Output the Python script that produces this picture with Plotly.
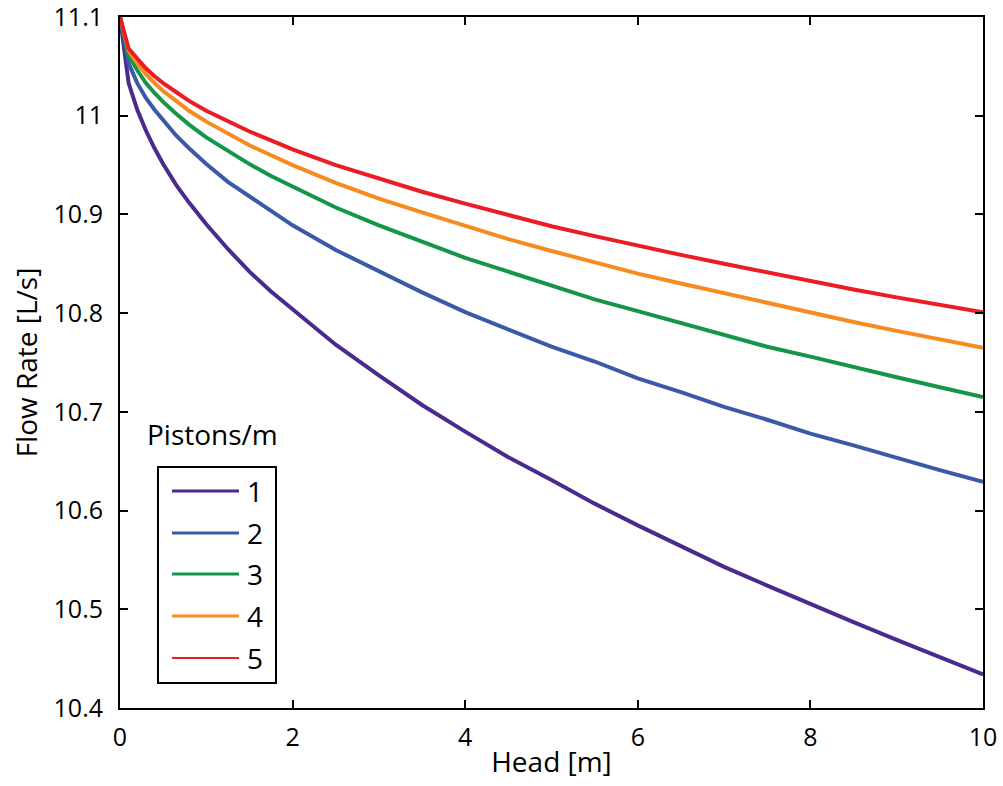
import plotly.graph_objects as go

# Head [m] sample points
head = [0, 0.1, 0.2, 0.3, 0.4, 0.5, 0.65, 0.8, 1, 1.25, 1.5, 1.75, 2, 2.5, 3,
        3.5, 4, 4.5, 5, 5.5, 6, 6.5, 7, 7.5, 8, 8.5, 9, 9.5, 10]

# Flow rate [L/s] for each piston density
flow_1 = [11.100, 11.033, 11.006, 10.985, 10.967, 10.951, 10.930, 10.912, 10.890,
          10.865, 10.842, 10.822, 10.804, 10.768, 10.737, 10.707, 10.680, 10.654,
          10.631, 10.607, 10.585, 10.564, 10.543, 10.524, 10.505, 10.487, 10.469,
          10.452, 10.434]
flow_2 = [11.100, 11.053, 11.033, 11.018, 11.006, 10.995, 10.980, 10.967, 10.951,
          10.933, 10.918, 10.903, 10.889, 10.864, 10.842, 10.821, 10.801, 10.784,
          10.766, 10.751, 10.734, 10.720, 10.705, 10.692, 10.678, 10.666, 10.653,
          10.641, 10.629]
flow_3 = [11.100, 11.061, 11.046, 11.033, 11.023, 11.014, 11.002, 10.991, 10.978,
          10.964, 10.951, 10.939, 10.928, 10.907, 10.889, 10.872, 10.856, 10.842,
          10.828, 10.814, 10.802, 10.790, 10.778, 10.766, 10.756, 10.745, 10.735,
          10.725, 10.715]
flow_4 = [11.100, 11.066, 11.053, 11.042, 11.033, 11.025, 11.015, 11.005, 10.994,
          10.982, 10.970, 10.960, 10.950, 10.932, 10.916, 10.902, 10.888, 10.875,
          10.863, 10.851, 10.840, 10.830, 10.820, 10.810, 10.800, 10.791, 10.782,
          10.773, 10.765]
flow_5 = [11.100, 11.068, 11.058, 11.048, 11.040, 11.033, 11.024, 11.015, 11.005,
          10.994, 10.984, 10.975, 10.966, 10.950, 10.936, 10.923, 10.911, 10.899,
          10.888, 10.878, 10.868, 10.859, 10.850, 10.841, 10.832, 10.824, 10.816,
          10.808, 10.801]

series = [flow_1, flow_2, flow_3, flow_4, flow_5]
names = ["1", "2", "3", "4", "5"]
colors = ["#4a2a8e", "#3a5aa8", "#14954a", "#f78b20", "#ec1c24"]
legend_widths = [3, 3, 3, 3, 2]

x_ticks = [0, 2, 4, 6, 8, 10]
y_ticks = [10.4, 10.5, 10.6, 10.7, 10.8, 10.9, 11.0, 11.1]
y_tick_text = ["10.4", "10.5", "10.6", "10.7", "10.8", "10.9", "11", "11.1"]

FONT = "Open Sans"
TICK_SIZE = 25
TEXT_SIZE = 28
W, H = 1003, 786
ML, MR, MT, MB = 120, 20, 17, 78
PW, PH = W - ML - MR, H - MT - MB


def px_x(p):
    return (p - ML) / PW


def px_y(p):
    return (H - MB - p) / PH


fig = go.Figure()
for vals, name, color in zip(series, names, colors):
    fig.add_trace(go.Scatter(x=head, y=vals, mode="lines", name=name,
                             line=dict(color=color, width=4), showlegend=False))

axis_common = dict(
    showline=True, linecolor="black", linewidth=2, mirror="ticks",
    ticks="inside", ticklen=8, tickwidth=2, tickcolor="black",
    showgrid=False, zeroline=False, automargin=False,
    ticklabeloverflow="allow",
    tickfont=dict(family=FONT, size=TICK_SIZE, color="black"),
    title_font=dict(family=FONT, size=TEXT_SIZE, color="black"),
)

fig.update_xaxes(range=[0, 10], tickvals=x_ticks, title_text="Head [m]",
                 title_standoff=0, ticklabelstandoff=6, **axis_common)
fig.update_yaxes(range=[10.4, 11.1000001], tickvals=y_ticks, ticktext=y_tick_text,
                 title_text="Flow Rate [L/s]", title_standoff=8,
                 ticklabelstandoff=10, **axis_common)

# Legend box with its entries
shapes = [dict(type="rect", xref="paper", yref="paper",
               x0=px_x(158), x1=px_x(276), y0=px_y(683), y1=px_y(467),
               line=dict(color="black", width=2), fillcolor="white")]
annotations = [dict(text="Pistons/m", xref="paper", yref="paper",
                    x=px_x(212), y=px_y(434), showarrow=False,
                    xanchor="center", yanchor="middle",
                    font=dict(family=FONT, size=TEXT_SIZE, color="black"))]
entry_y = [491, 533, 574, 616, 658]
for ey, name, color, lw in zip(entry_y, names, colors, legend_widths):
    shapes.append(dict(type="line", xref="paper", yref="paper",
                       x0=px_x(172), x1=px_x(239), y0=px_y(ey), y1=px_y(ey),
                       line=dict(color=color, width=lw)))
    annotations.append(dict(text=name, xref="paper", yref="paper",
                            x=px_x(245), y=px_y(ey), showarrow=False,
                            xanchor="left", yanchor="middle",
                            font=dict(family=FONT, size=TEXT_SIZE, color="black")))

fig.update_layout(
    width=W, height=H,
    margin=dict(l=ML, r=MR, t=MT, b=MB),
    paper_bgcolor="white", plot_bgcolor="white",
    shapes=shapes, annotations=annotations,
    showlegend=False,
)

fig.write_html("out.html")
